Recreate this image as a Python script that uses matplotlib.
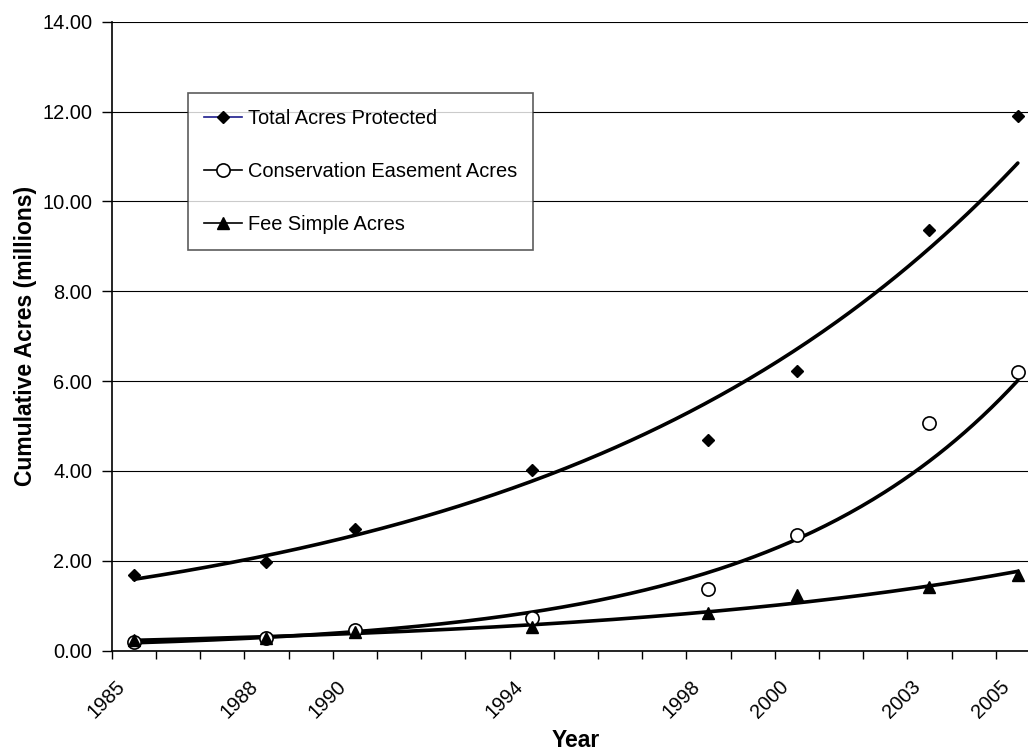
import numpy as np
import matplotlib
matplotlib.use("Agg")
import matplotlib.pyplot as plt
import matplotlib.transforms as mtrans
from matplotlib.lines import Line2D

plt.rcParams['font.family'] = ['Liberation Sans', 'DejaVu Sans']

# data (millions of acres)
years = [1985, 1988, 1990, 1994, 1998, 2000, 2003, 2005]
total = [1.68, 1.98, 2.70, 4.02, 4.69, 6.23, 9.36, 11.91]
easement = [0.20, 0.28, 0.46, 0.72, 1.37, 2.57, 5.07, 6.20]
fee = [0.24, 0.29, 0.41, 0.52, 0.84, 1.24, 1.42, 1.69]
labels = ['Total Acres Protected', 'Conservation Easement Acres', 'Fee Simple Acres']


def exp_trend(x, y):
    # exponential trendline like Excel: least squares on ln(y)
    b, a = np.polyfit(x, np.log(y), 1)
    xs = np.linspace(min(x), max(x), 300)
    return xs, np.exp(a + b * xs)


fig = plt.figure(figsize=(10.28, 7.53), dpi=100)
ax = fig.add_axes([0.1087, 0.1359, 0.9029, 0.8353])

ax.yaxis.grid(True, color='black', lw=0.8)
ax.set_axisbelow(True)

for ys in (total, easement, fee):
    xs, yt = exp_trend(np.array(years, float), np.array(ys))
    ax.plot(xs, yt, color='black', lw=2.6, solid_capstyle='round', zorder=3)

ax.plot(years, total, ls='none', marker='D', ms=6.5, color='black', zorder=4)
ax.plot(years, easement, ls='none', marker='o', ms=9.5, mfc='white', mec='black', mew=1.2, zorder=4)
ax.plot(years, fee, ls='none', marker='^', ms=8, color='black', zorder=4)

ax.set_xlim(1984.5, 2005.5)
ax.set_ylim(0, 14)
ax.set_yticks(np.arange(0, 14.01, 2))
ax.set_yticklabels(['%.2f' % v for v in np.arange(0, 14.01, 2)])
ax.set_xticks(years)
ax.set_xticklabels([str(y) for y in years], rotation=45, ha='right')
ax.set_xticks(np.arange(1984.5, 2005, 1.0), minor=True)

ax.tick_params(axis='y', direction='out', length=7, width=1, pad=7, labelsize=14.4)
ax.tick_params(axis='x', which='major', length=0, pad=19, labelsize=14.4)
ax.tick_params(axis='x', which='minor', direction='out', length=6, width=1)

shift = mtrans.ScaledTranslation(-5 / 100, 0, fig.dpi_scale_trans)
for lab in ax.get_xticklabels():
    lab.set_transform(lab.get_transform() + shift)

for s in ('top', 'right'):
    ax.spines[s].set_visible(False)
for s in ('left', 'bottom'):
    ax.spines[s].set_linewidth(1.2)

ax.set_xlabel('Year', fontsize=16.5, fontweight='bold', labelpad=5)
ax.set_ylabel('Cumulative Acres (millions)', fontsize=16.5, fontweight='bold', labelpad=4)

handles = [
    Line2D([], [], color='#1c1c8c', lw=1.2, marker='D', ms=6, mfc='black', mec='black'),
    Line2D([], [], color='black', lw=1.2, marker='o', ms=9.5, mfc='white', mec='black', mew=1.2),
    Line2D([], [], color='black', lw=1.2, marker='^', ms=8, mfc='black', mec='black'),
]
leg = fig.legend(handles, labels, loc='upper left', bbox_to_anchor=(188 / 1028, 1 - 93 / 753),
                 fontsize=14.4, frameon=True, fancybox=False, borderpad=0.8,
                 labelspacing=1.7, handlelength=1.9, handletextpad=0.3, borderaxespad=0)
leg.get_frame().set_edgecolor('#333333')
leg.get_frame().set_linewidth(1.2)

fig.savefig('out.png', dpi=100)
